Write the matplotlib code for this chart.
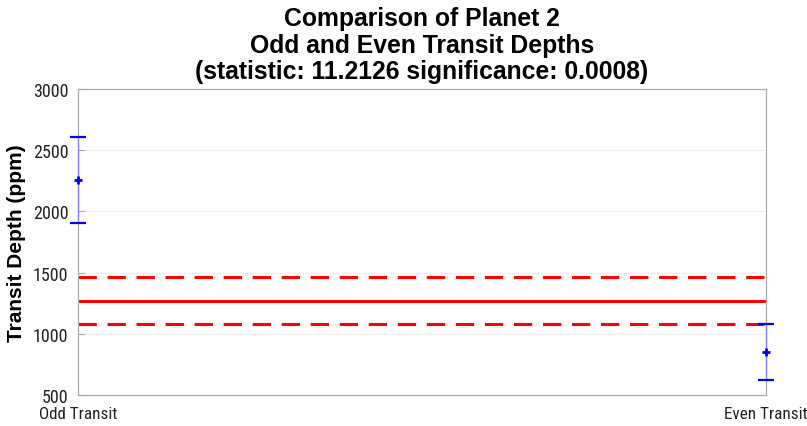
import numpy as np
import matplotlib.pyplot as plt

plt.rcParams['font.family'] = ['Liberation Sans', 'DejaVu Sans']

labels = ['Odd Transit', 'Even Transit']
depths = [2258, 850]
errors = [352, 228]
mean_depth = 1270
mean_err = 193

x = np.arange(1, len(labels) + 1)

fig = plt.figure(figsize=(8.07, 4.27), dpi=100)
ax = fig.add_axes([0.0967, 0.0726, 0.8523, 0.7166])

for v in [1000, 1500, 2000, 2500]:
    ax.axhline(v, color='#f0f0f0', lw=0.8, zorder=0)

ax.axhline(mean_depth, color='red', lw=2.2)
ax.axhline(mean_depth + mean_err, color='red', lw=2.2, ls=(0, (6, 3.5)))
ax.axhline(mean_depth - mean_err, color='red', lw=2.2, ls=(0, (6, 3.5)))

ax.vlines(x, np.array(depths) - errors, np.array(depths) + errors,
          color='#7f7fff', lw=0.9, zorder=3, clip_on=False)
ax.plot(x, depths, '+', color='blue', ms=6, mew=2, ls='none', zorder=4, clip_on=False)
ax.plot(x, np.array(depths) + errors, '_', color='blue', ms=12, mew=1.6, ls='none',
        zorder=4, clip_on=False)
ax.plot(x, np.array(depths) - errors, '_', color='blue', ms=12, mew=1.6, ls='none',
        zorder=4, clip_on=False)

ax.set_xlim(1, 2)
ax.set_ylim(500, 3000)
ax.set_xticks(x)
ax.set_xticklabels(labels)
ax.set_yticks([500, 1000, 1500, 2000, 2500, 3000])
ax.tick_params(direction='in', color='#aaaaaa', labelsize=13, length=5,
               labelcolor='#222222')
ax.tick_params(axis='y', pad=7)
ax.tick_params(axis='x', pad=8, labelsize=12.3)
for t in ax.get_xticklabels() + ax.get_yticklabels():
    t.set_family(['Roboto Condensed', 'Liberation Sans'])
for s in ax.spines.values():
    s.set_color('#aaaaaa')
    s.set_linewidth(0.9)

ax.set_ylabel('Transit Depth (ppm)', fontsize=15, fontweight='bold')
ax.yaxis.set_label_coords(-0.075, 0.5)
ax.set_title('Comparison of Planet 2\nOdd and Even Transit Depths\n'
             '(statistic: 11.2126 significance: 0.0008)',
             fontsize=17.8, fontweight='bold', linespacing=1.12, pad=8)

fig.savefig('out.png', dpi=100)
